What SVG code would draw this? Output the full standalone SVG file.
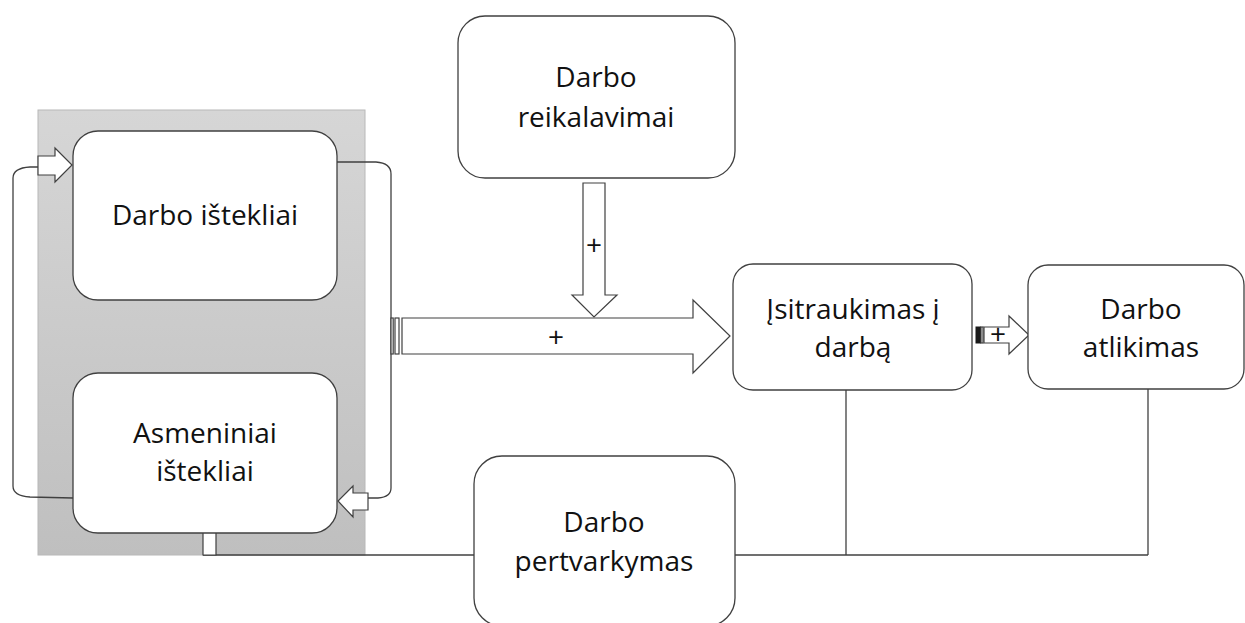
<svg xmlns="http://www.w3.org/2000/svg" width="1245" height="623" viewBox="0 0 1245 623">
  <defs>
    <linearGradient id="panelFill" x1="0" y1="0" x2="0" y2="1">
      <stop offset="0" stop-color="#d6d6d6"/>
      <stop offset="1" stop-color="#bfbfbf"/>
    </linearGradient>
    <style>
      .box { fill: #ffffff; stroke: #404040; stroke-width: 1.3; }
      .wire { fill: none; stroke: #404040; stroke-width: 1.3; }
      .blk { fill: #ffffff; stroke: #404040; stroke-width: 1.2; stroke-linejoin: miter; }
      .lbl { font-family: "Open Sans", "Liberation Sans", sans-serif; font-size: 28px; fill: #111111; text-anchor: middle; }
    </style>
  </defs>

  <rect width="1245" height="623" fill="#ffffff"/>

  <!-- shaded resources panel -->
  <rect x="38" y="110" width="327" height="445" fill="url(#panelFill)" stroke="#b8b8b8" stroke-width="1"/>

  <g id="connectors">
    <!-- left feedback loop: personal resources -> job resources -->
    <path class="wire" d="M73 498 L30 497 Q13 496 13 486 L13 178 Q13 168 30 167 L38 167"/>
    <!-- right feedback loop: job resources -> personal resources -->
    <path class="wire" d="M337 162 L376 162 Q391 163 391 174 L391 488 Q391 497 378 498 L368 498"/>
    <!-- bottom feedback bus -->
    <path class="wire" d="M203 555 L474 555"/>
    <path class="wire" d="M735 555 L1148 555"/>
    <path class="wire" d="M846 390 L846 555"/>
    <path class="wire" d="M1148 389 L1148 555"/>

    <!-- block arrow into job resources -->
    <polygon class="blk" points="38,156 55,156 55,148 72,165 55,182 55,175 38,175"/>
    <!-- block arrow into personal resources (from right) -->
    <polygon class="blk" points="368,493 353,493 353,486 338,501 353,517 353,510 368,510"/>
    <!-- block arrow up into personal resources -->
    <polygon class="blk" points="203,555 203,527 197,527 210,514 223,527 216,527 216,555"/>

    <!-- job demands -> engagement -->
    <polygon class="blk" points="583,183 605,183 605,295 617,295 594,317 572,295 583,295"/>
    <text class="lbl" x="594" y="255">+</text>

    <!-- resources -> engagement (striped) -->
    <rect class="blk" x="391" y="318" width="2.2" height="36"/>
    <rect class="blk" x="395" y="318" width="4" height="36"/>
    <polygon class="blk" points="402,318 693,318 693,300 730,336 693,373 693,354 402,354"/>
    <text class="lbl" x="556" y="347">+</text>

    <!-- engagement -> performance (striped) -->
    <rect x="976" y="327" width="4.5" height="16" fill="#1a1a1a" stroke="#1a1a1a" stroke-width="1"/>
    <rect class="blk" x="981" y="327" width="2" height="16"/>
    <polygon class="blk" points="984,327 1009,327 1009,316 1029,335 1009,354 1009,343 984,343"/>
    <text class="lbl" x="998" y="344">+</text>
  </g>

  <g id="darbo-istekliai">
    <rect class="box" x="73" y="131" width="264" height="169" rx="25" ry="25"/>
    <text class="lbl" x="205" y="225">Darbo ištekliai</text>
  </g>

  <g id="asmeniniai-istekliai">
    <rect class="box" x="73" y="373" width="264" height="160" rx="25" ry="25"/>
    <text class="lbl" x="205" y="443">Asmeniniai</text>
    <text class="lbl" x="205" y="481">ištekliai</text>
  </g>

  <g id="darbo-reikalavimai">
    <rect class="box" x="458" y="16" width="277" height="162" rx="27" ry="27"/>
    <text class="lbl" x="596" y="87">Darbo</text>
    <text class="lbl" x="596" y="127">reikalavimai</text>
  </g>

  <g id="isitraukimas">
    <rect class="box" x="733" y="264" width="239" height="126" rx="20" ry="20"/>
    <text class="lbl" x="853" y="319">Įsitraukimas į</text>
    <text class="lbl" x="853" y="357">darbą</text>
  </g>

  <g id="darbo-atlikimas">
    <rect class="box" x="1028" y="265" width="216" height="124" rx="20" ry="20"/>
    <text class="lbl" x="1141" y="319">Darbo</text>
    <text class="lbl" x="1141" y="357">atlikimas</text>
  </g>

  <g id="darbo-pertvarkymas">
    <rect class="box" x="474" y="456" width="261" height="170" rx="28" ry="28"/>
    <text class="lbl" x="604" y="532">Darbo</text>
    <text class="lbl" x="604" y="571">pertvarkymas</text>
  </g>
</svg>
